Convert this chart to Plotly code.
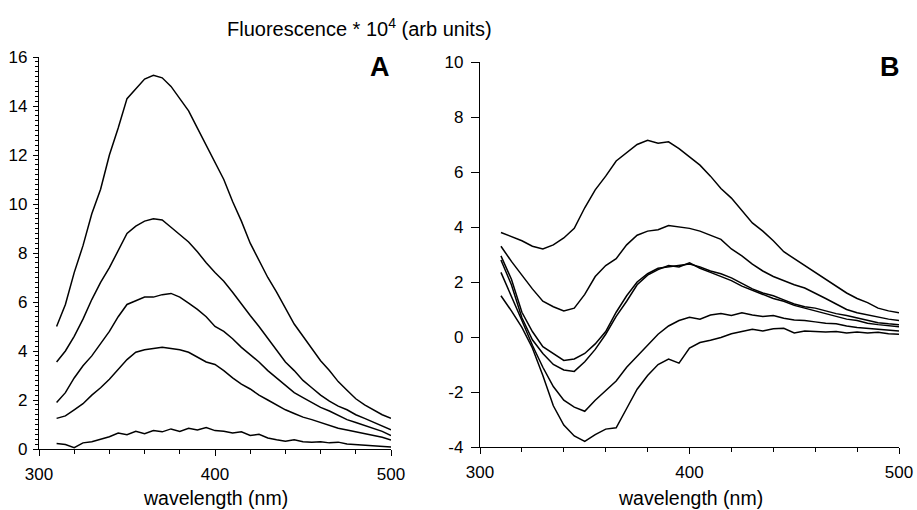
import plotly.graph_objects as go

W, H = 917, 510

wavelength = [310, 315, 320, 325, 330, 335, 340, 345, 350, 355, 360, 365, 370, 375, 380,
              385, 390, 395, 400, 405, 410, 415, 420, 425, 430, 435, 440, 445, 450, 455,
              460, 465, 470, 475, 480, 485, 490, 495, 500]

# Panel A series (Fluorescence * 1e4)
a1 = [5.0, 5.9, 7.2, 8.3, 9.6, 10.6, 12.0, 13.1, 14.3, 14.7, 15.1, 15.25, 15.15, 14.8, 14.3,
      13.8, 13.1, 12.4, 11.7, 11.0, 10.1, 9.3, 8.4, 7.7, 7.0, 6.4, 5.75, 5.1, 4.6, 4.1,
      3.6, 3.2, 2.75, 2.4, 2.05, 1.8, 1.6, 1.4, 1.25]
a2 = [3.55, 4.0, 4.6, 5.3, 6.1, 6.8, 7.4, 8.1, 8.8, 9.1, 9.3, 9.4, 9.35, 9.05, 8.75,
      8.45, 8.05, 7.6, 7.2, 6.85, 6.4, 5.9, 5.45, 5.0, 4.5, 4.0, 3.55, 3.2, 2.8, 2.5,
      2.2, 1.95, 1.75, 1.6, 1.4, 1.25, 1.1, 0.95, 0.78]
a3 = [1.9, 2.3, 2.9, 3.4, 3.8, 4.3, 4.8, 5.4, 5.9, 6.05, 6.2, 6.2, 6.3, 6.35, 6.2,
      5.95, 5.7, 5.4, 5.0, 4.8, 4.5, 4.15, 3.85, 3.55, 3.2, 2.9, 2.6, 2.3, 2.1, 1.9,
      1.7, 1.55, 1.38, 1.2, 1.08, 0.95, 0.85, 0.72, 0.55]
a4 = [1.25, 1.35, 1.6, 1.85, 2.2, 2.5, 2.85, 3.25, 3.65, 3.95, 4.05, 4.1, 4.15, 4.1, 4.05,
      3.95, 3.75, 3.55, 3.45, 3.2, 2.9, 2.65, 2.45, 2.2, 2.0, 1.8, 1.6, 1.45, 1.3, 1.2,
      1.08, 0.95, 0.85, 0.78, 0.7, 0.63, 0.57, 0.48, 0.37]
a5 = [0.22, 0.18, 0.05, 0.25, 0.3, 0.4, 0.5, 0.65, 0.58, 0.72, 0.62, 0.75, 0.7, 0.82, 0.72,
      0.85, 0.78, 0.88, 0.75, 0.72, 0.65, 0.7, 0.55, 0.6, 0.45, 0.38, 0.32, 0.38, 0.3, 0.28,
      0.3, 0.25, 0.28, 0.2, 0.18, 0.15, 0.12, 0.1, 0.08]

# Panel B series
b1 = [3.8, 3.65, 3.5, 3.3, 3.2, 3.35, 3.6, 3.95, 4.7, 5.35, 5.85, 6.4, 6.7, 7.0, 7.15,
      7.05, 7.1, 6.85, 6.55, 6.25, 5.85, 5.4, 5.05, 4.6, 4.15, 3.85, 3.5, 3.1, 2.85, 2.6,
      2.35, 2.1, 1.85, 1.6, 1.4, 1.25, 1.05, 0.95, 0.88]
b2 = [3.3, 2.75, 2.25, 1.75, 1.3, 1.1, 0.95, 1.05, 1.55, 2.2, 2.6, 2.85, 3.35, 3.7, 3.85,
      3.9, 4.05, 4.0, 3.95, 3.85, 3.7, 3.55, 3.2, 2.95, 2.65, 2.4, 2.2, 2.05, 1.9, 1.78,
      1.6, 1.4, 1.2, 1.0, 0.88, 0.8, 0.72, 0.65, 0.6]
b3 = [2.95, 2.1, 0.9, 0.2, -0.35, -0.6, -0.85, -0.8, -0.6, -0.25, 0.2, 0.9, 1.5, 2.0, 2.3,
      2.5, 2.55, 2.6, 2.65, 2.55, 2.4, 2.3, 2.15, 1.95, 1.75, 1.6, 1.5, 1.35, 1.2, 1.1,
      1.05, 0.95, 0.85, 0.78, 0.7, 0.6, 0.52, 0.48, 0.45]
b4 = [2.8, 1.9, 0.7, -0.1, -0.6, -1.0, -1.2, -1.25, -0.9, -0.45, 0.1, 0.75, 1.3, 1.9, 2.25,
      2.45, 2.6, 2.55, 2.7, 2.5, 2.35, 2.2, 2.05, 1.85, 1.7, 1.55, 1.4, 1.3, 1.15, 1.05,
      0.95, 0.85, 0.75, 0.65, 0.6, 0.5, 0.45, 0.4, 0.37]
b5 = [2.35, 1.5, 0.6, -0.3, -1.1, -1.8, -2.3, -2.55, -2.7, -2.3, -1.95, -1.6, -1.1, -0.7, -0.3,
      0.1, 0.4, 0.6, 0.72, 0.65, 0.8, 0.85, 0.78, 0.88, 0.8, 0.75, 0.78, 0.68, 0.62, 0.6,
      0.55, 0.5, 0.48, 0.4, 0.35, 0.32, 0.28, 0.25, 0.22]
b6 = [1.5, 0.95, 0.35, -0.4, -1.4, -2.5, -3.2, -3.6, -3.8, -3.55, -3.35, -3.3, -2.6, -1.9, -1.4,
      -1.0, -0.8, -0.95, -0.4, -0.2, -0.12, -0.02, 0.12, 0.2, 0.28, 0.22, 0.3, 0.32, 0.15, 0.22,
      0.2, 0.18, 0.2, 0.15, 0.18, 0.15, 0.17, 0.12, 0.1]

series_a = [a1, a2, a3, a4, a5]
series_b = [b1, b2, b3, b4, b5, b6]

yb_ticks = [-4, -2, 0, 2, 4, 6, 8, 10]
yb_labels = ["-4", "-2", "0", "2", "4", "6", "8", "10"]

FONT = "Arial, Liberation Sans, sans-serif"
LINE = dict(color="black", width=1.5)

fig = go.Figure()
for s in series_a:
    fig.add_trace(go.Scatter(x=wavelength, y=s, mode="lines", line=LINE,
                             xaxis="x", yaxis="y", showlegend=False, hoverinfo="skip"))
for s in series_b:
    fig.add_trace(go.Scatter(x=wavelength, y=s, mode="lines", line=LINE,
                             xaxis="x2", yaxis="y2", showlegend=False, hoverinfo="skip"))

tickfont = dict(family=FONT, size=17, color="black")
common_x = dict(range=[300, 500], tickmode="linear", tick0=300, dtick=100,
                ticks="outside", ticklen=6, tickwidth=1.3,
                tickcolor="black", showline=True, linecolor="black", linewidth=1.3,
                showgrid=False, zeroline=False, tickfont=tickfont, ticklabelstandoff=3,
                automargin=False,
                minor=dict(dtick=20, tick0=300, ticks="outside", ticklen=4, tickwidth=1,
                           tickcolor="black", showgrid=False))

fig.update_layout(
    width=W, height=H,
    margin=dict(l=0, r=0, t=0, b=0, autoexpand=False),
    paper_bgcolor="white", plot_bgcolor="white",
    xaxis=dict(domain=[39 / W, 391 / W], anchor="y", **common_x),
    yaxis=dict(domain=[1 - 449 / H, 1 - 57 / H], anchor="x", range=[0, 16],
               tickmode="linear", tick0=0, dtick=2, ticks="outside", ticklen=5,
               tickwidth=1.3, tickcolor="black", automargin=False,
               showline=True, linecolor="black", linewidth=1.3, showgrid=False, zeroline=False,
               tickfont=tickfont, ticklabelstandoff=2,
               minor=dict(dtick=0.2, tick0=0, ticks="outside", ticklen=3, tickwidth=1,
                          tickcolor="black", showgrid=False)),
    xaxis2=dict(domain=[480 / W, 899 / W], anchor="y2", **common_x),
    yaxis2=dict(domain=[1 - 447 / H, 1 - 62 / H], anchor="x2", range=[-4, 10],
                tickmode="array", tickvals=yb_ticks, ticktext=yb_labels, ticks="outside",
                ticklen=8, tickwidth=1.3, automargin=False,
                tickcolor="black", showline=True, linecolor="black", linewidth=1.3,
                showgrid=False, zeroline=False, tickfont=tickfont, ticklabelstandoff=4),
)

annots = [
    dict(text="Fluorescence * 10<sup>4</sup> (arb units)", x=359 / W, y=1 - 27 / H,
         font=dict(family=FONT, size=20, color="black")),
    dict(text="<b>A</b>", x=380 / W, y=1 - 67 / H, font=dict(family=FONT, size=27, color="black")),
    dict(text="<b>B</b>", x=890 / W, y=1 - 67 / H, font=dict(family=FONT, size=27, color="black")),
    dict(text="wavelength (nm)", x=215 / W, y=1 - 498 / H, font=dict(family=FONT, size=19.5, color="black")),
    dict(text="wavelength (nm)", x=690 / W, y=1 - 498 / H, font=dict(family=FONT, size=19.5, color="black")),
]
for a in annots:
    fig.add_annotation(xref="paper", yref="paper", showarrow=False, xanchor="center",
                       yanchor="middle", **a)

fig.write_html("out.html")
